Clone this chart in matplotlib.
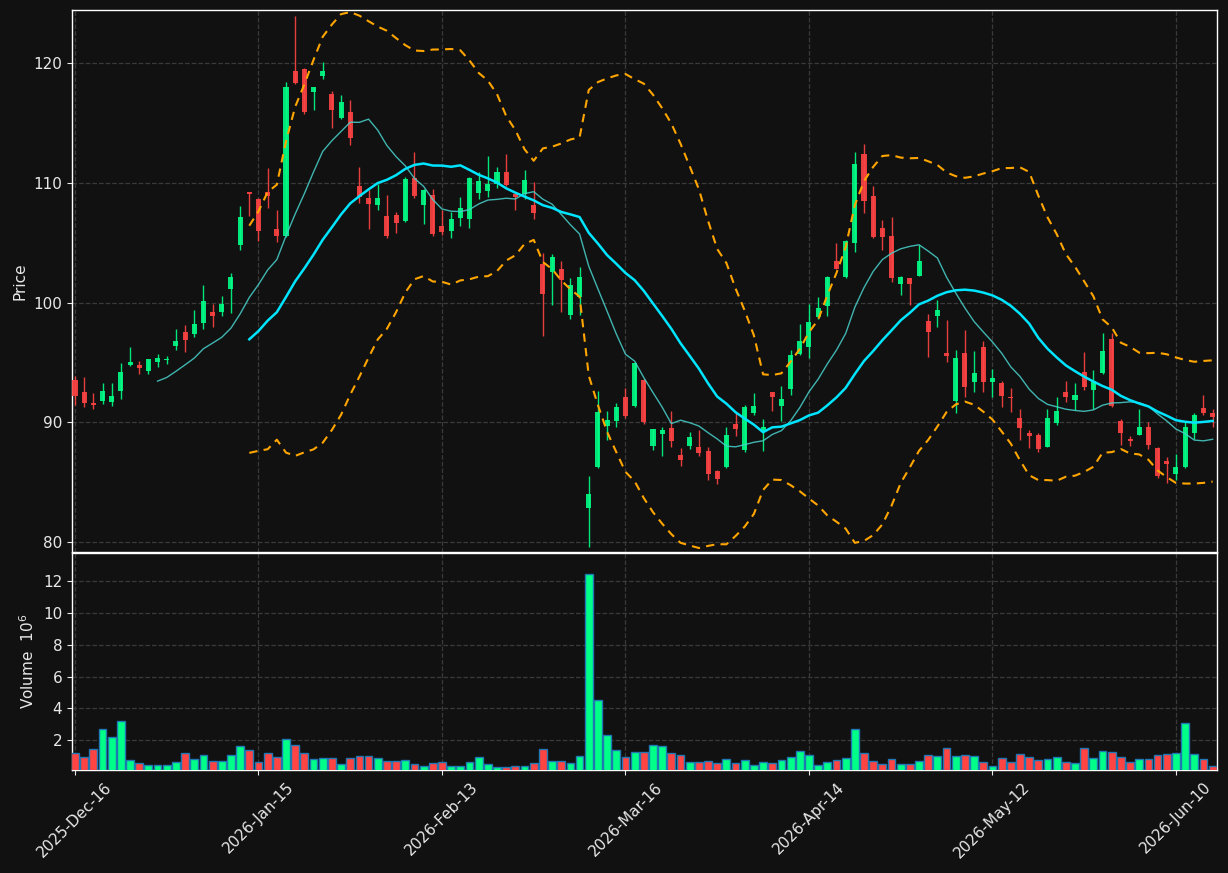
import numpy as np
import pandas as pd
import matplotlib
matplotlib.use("Agg")
import matplotlib.pyplot as plt

# trading days (US exchange calendar, holidays skipped)
holidays = ["2025-12-25", "2026-01-01", "2026-01-19", "2026-02-16", "2026-04-03", "2026-05-25"]
dates = pd.bdate_range("2025-12-16", periods=125, freq="C", holidays=holidays)

opens = [93.57, 92.49, 91.65, 91.77, 91.68, 92.61, 94.78, 94.78, 94.29, 95.01,
         95.19, 96.41, 97.51, 97.36, 98.29, 99.25, 99.19, 101.10, 104.78, 109.25,
         108.67, 109.25, 106.17, 105.54, 119.33, 119.51, 117.59, 118.96, 117.42, 115.42,
         115.94, 109.77, 108.75, 108.12, 107.25, 107.33, 106.78, 110.41, 108.12, 109.01,
         106.43, 105.94, 107.04, 106.96, 109.13, 109.28, 109.94, 110.93, 109.07, 109.07,
         108.17, 103.25, 102.52, 102.84, 98.96, 100.43, 82.84, 86.26, 89.68, 90.09,
         92.09, 91.39, 93.57, 88.03, 89.01, 89.51, 87.25, 88.00, 87.97, 87.62,
         85.94, 86.26, 89.83, 87.68, 90.75, 89.30, 92.49, 91.36, 92.78, 95.74,
         96.32, 98.78, 99.71, 103.51, 102.12, 105.01, 112.43, 108.93, 106.26, 105.59,
         101.59, 102.03, 102.26, 98.49, 98.87, 95.80, 91.77, 95.80, 93.36, 96.26,
         93.36, 93.25, 92.12, 90.32, 89.07, 88.90, 87.97, 89.94, 92.55, 91.83,
         94.23, 92.70, 94.14, 96.99, 90.14, 88.58, 88.93, 89.57, 87.83, 86.75,
         85.65, 86.23, 89.07, 91.16, 90.81]
highs = [93.86, 93.80, 92.46, 93.30, 93.30, 94.96, 96.26, 95.13, 95.30, 95.74,
         95.57, 97.83, 98.14, 99.42, 101.48, 99.88, 100.55, 102.49, 108.06, 109.25,
         108.70, 111.22, 107.74, 118.41, 123.91, 119.55, 118.00, 120.06, 117.68, 117.33,
         116.90, 111.30, 109.42, 109.94, 108.99, 107.57, 110.49, 112.61, 109.45, 109.51,
         107.77, 107.57, 108.78, 110.50, 110.87, 112.26, 111.30, 112.43, 109.10, 111.10,
         110.09, 104.14, 104.06, 103.51, 102.06, 102.93, 85.54, 92.64, 90.96, 91.62,
         92.84, 95.01, 93.60, 89.45, 89.65, 90.96, 87.83, 89.22, 89.36, 87.97,
         86.03, 89.57, 90.81, 91.45, 92.41, 90.29, 92.55, 93.04, 96.03, 98.20,
         99.86, 100.43, 102.20, 105.01, 105.20, 112.55, 113.25, 109.74, 106.93, 107.13,
         102.26, 102.05, 104.78, 99.04, 100.23, 98.55, 96.03, 97.71, 95.97, 96.81,
         94.49, 93.48, 92.90, 91.10, 89.36, 89.13, 91.10, 92.12, 93.48, 93.28,
         95.88, 94.38, 97.48, 97.48, 90.29, 88.84, 91.10, 90.00, 87.91, 87.10,
         87.33, 90.00, 90.75, 92.26, 91.10]
lows = [91.48, 91.30, 91.10, 91.54, 91.39, 91.97, 94.67, 94.06, 94.06, 94.58,
        94.87, 96.03, 95.88, 97.13, 97.80, 97.97, 98.87, 99.13, 104.38, 107.19,
        105.13, 107.88, 105.07, 105.50, 118.23, 115.74, 116.09, 118.64, 114.58, 115.33,
        113.13, 108.32, 106.12, 107.71, 105.39, 105.80, 106.75, 108.75, 106.55, 105.59,
        105.68, 105.39, 106.41, 106.23, 108.64, 108.78, 109.57, 109.74, 107.71, 108.64,
        106.96, 97.19, 99.77, 99.22, 98.64, 98.99, 79.57, 86.20, 88.55, 89.65,
        90.40, 91.25, 89.88, 87.68, 87.19, 87.97, 86.38, 87.77, 87.19, 85.16,
        84.81, 86.20, 88.84, 87.54, 90.58, 87.62, 90.96, 90.09, 92.26, 95.59,
        95.39, 98.64, 98.87, 102.80, 102.03, 104.20, 107.48, 105.36, 104.43, 101.74,
        100.61, 99.80, 102.20, 95.45, 97.97, 95.07, 90.81, 92.12, 92.55, 92.55,
        92.12, 91.30, 90.90, 88.55, 87.86, 87.54, 87.95, 89.80, 91.68, 91.04,
        92.70, 91.10, 94.06, 91.25, 88.14, 88.03, 88.90, 87.77, 85.39, 84.96,
        85.16, 86.17, 88.58, 90.58, 89.65]
closes = [92.20, 91.59, 91.45, 92.58, 92.23, 94.17, 95.07, 94.52, 95.25, 95.33,
          95.25, 96.75, 96.87, 98.17, 100.09, 98.87, 99.91, 102.17, 107.16, 109.04,
          106.00, 108.93, 105.54, 118.00, 118.35, 115.88, 118.00, 119.33, 116.12, 116.75,
          113.71, 108.84, 108.20, 108.75, 105.54, 106.61, 110.35, 108.87, 109.42, 105.71,
          105.86, 106.99, 107.91, 110.43, 110.17, 109.91, 110.93, 109.80, 108.78, 110.23,
          107.45, 100.70, 103.80, 101.91, 101.48, 102.17, 84.00, 90.87, 90.17, 91.25,
          90.52, 94.93, 90.03, 89.42, 89.33, 88.41, 86.84, 88.78, 87.42, 85.68,
          85.28, 88.90, 89.45, 91.25, 91.33, 89.65, 92.12, 91.97, 95.59, 96.75,
          98.41, 99.51, 102.17, 102.84, 105.16, 111.59, 108.52, 105.51, 105.45, 102.03,
          102.12, 101.54, 103.51, 97.54, 99.42, 95.54, 95.33, 92.99, 94.14, 93.36,
          93.74, 92.20, 92.06, 89.51, 88.84, 87.77, 90.38, 90.96, 92.12, 92.32,
          92.99, 93.42, 95.97, 91.39, 89.13, 88.43, 89.65, 88.12, 85.54, 86.52,
          86.23, 89.57, 90.58, 90.75, 90.43]
# volume in millions
volumes = [1.18, 0.97, 1.43, 2.73, 2.23, 3.24, 0.78, 0.55, 0.47, 0.47,
           0.47, 0.66, 1.18, 0.85, 1.10, 0.68, 0.72, 1.10, 1.61, 1.41,
           0.66, 1.22, 0.97, 2.10, 1.73, 1.22, 0.85, 0.91, 0.91, 0.53,
           0.91, 1.04, 1.04, 0.91, 0.72, 0.72, 0.78, 0.53, 0.41, 0.60,
           0.66, 0.41, 0.41, 0.62, 0.97, 0.53, 0.34, 0.32, 0.41, 0.41,
           0.60, 1.48, 0.72, 0.72, 0.60, 1.04, 12.48, 4.56, 2.36, 1.41,
           0.97, 1.29, 1.29, 1.73, 1.61, 1.22, 1.10, 0.66, 0.66, 0.72,
           0.60, 0.85, 0.60, 0.78, 0.47, 0.66, 0.60, 0.78, 0.97, 1.35,
           1.10, 0.47, 0.66, 0.78, 0.91, 2.73, 1.22, 0.72, 0.53, 0.85,
           0.53, 0.53, 0.72, 1.10, 1.04, 1.54, 1.04, 1.10, 1.04, 0.66,
           0.41, 0.91, 0.66, 1.16, 0.97, 0.78, 0.85, 0.97, 0.66, 0.60,
           1.54, 0.91, 1.35, 1.29, 0.97, 0.66, 0.85, 0.85, 1.10, 1.16,
           1.22, 3.11, 1.16, 0.85, 0.41]

df = pd.DataFrame({"Open": opens, "High": highs, "Low": lows,
                   "Close": closes, "Volume": volumes}, index=dates)

# indicators
ma10 = df["Close"].rolling(10).mean()
ma20 = df["Close"].rolling(20).mean()
sd20 = df["Close"].rolling(20).std(ddof=0)
bb_up = ma20 + 2 * sd20
bb_lo = ma20 - 2 * sd20

bg = "#111111"
up_col = "#00ff88"
dn_col = "#ff4444"
grid_col = "#3a3a3a"

fig = plt.figure(figsize=(12.28, 8.73), dpi=100, facecolor=bg)
ax = fig.add_axes([0.0586, 0.3677, 0.9324, 0.6208], facecolor=bg)
axv = fig.add_axes([0.0586, 0.118, 0.9324, 0.2486], facecolor=bg, sharex=ax)

x = np.arange(len(df))
is_up = (df["Close"] >= df["Open"]).values
cols = np.where(is_up, up_col, dn_col)

# candles
body_lo = np.minimum(df["Open"], df["Close"])
body_h = np.maximum((df["Close"] - df["Open"]).abs(), 0.08)
ax.vlines(x, df["Low"], df["High"], colors=cols, linewidth=1.0, alpha=0.9, zorder=2)
ax.bar(x, body_h, bottom=body_lo, width=0.55, color=cols, alpha=0.9,
       linewidth=0, zorder=3)

# moving averages and bands
ax.plot(x, ma10, color="#48d1cc", linewidth=1.0, alpha=0.85, zorder=4)
ax.plot(x, ma20, color="#00e5ff", linewidth=1.8, zorder=4)
ax.plot(x, bb_up, color="#ffa500", linewidth=1.5, linestyle=(0, (4, 3)), zorder=4)
ax.plot(x, bb_lo, color="#ffa500", linewidth=1.5, linestyle=(0, (4, 3)), zorder=4)

# volume
axv.bar(x, df["Volume"], width=0.85, color=cols, edgecolor="#1f77b4",
        linewidth=1.0, zorder=3)

ax.set_xlim(-0.33, 124.47)
ax.set_ylim(79.17, 124.43)
axv.set_ylim(0.13, 13.78)

tick_pos = list(range(0, len(df), 20))
tick_labels = [dates[i].strftime("%Y-%b-%d") for i in tick_pos]
axv.set_xticks(tick_pos)
axv.set_xticklabels(tick_labels, rotation=45, ha="center", fontsize=11, color="#e8e8e8")
ax.set_yticks([80, 90, 100, 110, 120])
axv.set_yticks([2, 4, 6, 8, 10, 12])
ax.tick_params(axis="x", labelbottom=False)

for a in (ax, axv):
    a.grid(True, color=grid_col, linestyle="--", linewidth=0.9)
    a.set_axisbelow(True)
    a.tick_params(colors="#e8e8e8", labelsize=11)
    for s in a.spines.values():
        s.set_color("#ffffff")
        s.set_linewidth(1.0)

ax.set_ylabel("Price", color="#e8e8e8", fontsize=11)
axv.set_ylabel("Volume  $10^6$", color="#e8e8e8", fontsize=11)

fig.savefig("out.png", dpi=100, facecolor=bg)
